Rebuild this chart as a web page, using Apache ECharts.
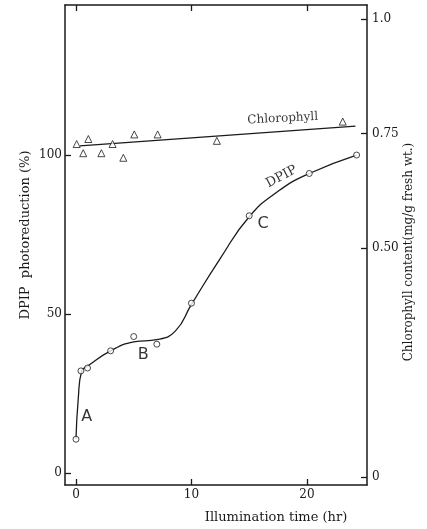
<!DOCTYPE html>
<html>
<head>
<meta charset="utf-8">
<script src="https://cdn.jsdelivr.net/npm/echarts@6/dist/echarts.min.js"></script>
<style>
  html, body { margin: 0; padding: 0; background: #fff; }
  #chart { width: 427px; height: 529px; }
</style>
</head>
<body>
<div id="chart"></div>
<script>
// DPIP photoreduction (%) measured points
const dpipX = [0, 0.43, 1.0, 3.0, 5.0, 7.0, 10.0, 15.0, 20.2, 24.3];
const dpipY = [10.6, 32.1, 33.0, 38.4, 42.9, 40.5, 53.4, 80.9, 94.2, 100];

// hand drawn DPIP curve
const curveX = [0, 0.2, 0.5, 1.0, 3.0, 5.0, 7.0, 8.6, 10.0, 12.5, 15.0, 17.5, 20.2, 24.3];
const curveY = [10.6, 23.5, 32.1, 33.6, 38.4, 41.2, 41.9, 44.6, 53.0, 67.5, 80.6, 88.6, 94.2, 100];

// chlorophyll content (mg/g fresh wt.)
const chlX = [0.06, 0.63, 1.07, 2.2, 3.17, 4.1, 5.05, 7.07, 12.2, 23.1];
const chlY = [0.727, 0.707, 0.738, 0.707, 0.727, 0.697, 0.748, 0.748, 0.734, 0.776];
const chlLineX = [0.35, 24.2];
const chlLineY = [0.723, 0.766];

// ticks
const xTicks = [0, 10, 20];
const leftTicks = [0, 50, 100];
const rightTicks = [0, 0.5, 0.75, 1.0];
const rightTickLabels = ['0', '0.50', '0.75', '1.0'];

// in-plot annotations (left axis units)
const noteText = ['A', 'B', 'C'];
const noteX = [0.94, 5.83, 16.2];
const noteY = [17.7, 37.1, 78.5];

const ink = '#1a1a1a';
const serif = 'DejaVu Serif';

const chart = echarts.init(document.getElementById('chart'));

const tickStyle = { show: true, inside: true, length: 6, lineStyle: { color: ink, width: 1.3 } };
const axisLine = { show: true, onZero: false, lineStyle: { color: ink, width: 1.5 } };
const labelStyle = { color: ink, fontFamily: serif, fontSize: 12 };

chart.setOption({
  animation: false,
  grid: { left: 65, right: 60, top: 5, bottom: 44 },
  xAxis: [
    {
      type: 'value', min: -0.95, max: 25.2, position: 'bottom',
      axisLine: axisLine,
      axisTick: Object.assign({ customValues: xTicks }, tickStyle),
      axisLabel: Object.assign({ customValues: xTicks, margin: 4 }, labelStyle),
      splitLine: { show: false }
    },
    {
      type: 'value', min: -0.95, max: 25.2, position: 'top',
      axisLine: axisLine,
      axisTick: Object.assign({ customValues: xTicks }, tickStyle),
      axisLabel: { show: false },
      splitLine: { show: false }
    }
  ],
  yAxis: [
    {
      type: 'value', min: -3.8, max: 147.2, position: 'left',
      axisLine: axisLine,
      axisTick: Object.assign({ customValues: leftTicks }, tickStyle),
      axisLabel: Object.assign({ customValues: leftTicks, margin: 3 }, labelStyle),
      splitLine: { show: false }
    },
    {
      type: 'value', min: -0.0175, max: 1.0306, position: 'right',
      axisLine: axisLine,
      axisTick: Object.assign({ customValues: rightTicks }, tickStyle),
      axisLabel: Object.assign({
        customValues: rightTicks, margin: 5,
        formatter: v => rightTickLabels[rightTicks.indexOf(v)]
      }, labelStyle),
      splitLine: { show: false }
    }
  ],
  series: [
    {
      name: 'DPIP curve', type: 'line', yAxisIndex: 0,
      data: curveX.map((x, i) => [x, curveY[i]]),
      smooth: 0.5, showSymbol: false, silent: true,
      lineStyle: { color: ink, width: 1.3 }, z: 2
    },
    {
      name: 'DPIP', type: 'scatter', yAxisIndex: 0,
      data: dpipX.map((x, i) => [x, dpipY[i]]),
      symbol: 'circle', symbolSize: 6,
      itemStyle: { color: '#fff', borderColor: ink, borderWidth: 1 }, z: 3
    },
    {
      name: 'Chlorophyll line', type: 'line', yAxisIndex: 1,
      data: chlLineX.map((x, i) => [x, chlLineY[i]]),
      showSymbol: false, silent: true,
      lineStyle: { color: ink, width: 1.3 }, z: 2
    },
    {
      name: 'Chlorophyll', type: 'scatter', yAxisIndex: 1,
      data: chlX.map((x, i) => [x, chlY[i]]),
      symbol: 'triangle', symbolSize: 7,
      itemStyle: { color: '#fff', borderColor: ink, borderWidth: 1 }, z: 3
    },
    {
      name: 'notes', type: 'scatter', yAxisIndex: 0, symbolSize: 0, silent: true,
      data: noteText.map((t, i) => ({ value: [noteX[i], noteY[i]], name: t })),
      label: {
        show: true, position: 'inside', formatter: '{b}',
        color: '#000', fontFamily: 'DejaVu Sans', fontSize: 16
      }
    },
    {
      name: 'curve names', type: 'scatter', yAxisIndex: 0, symbolSize: 0, silent: true,
      data: [
        { value: [17.8, 93.2], name: 'DPIP', label: { rotate: 28, fontSize: 13 } },
        { value: [17.9, 111.5], name: 'Chlorophyll', label: { rotate: 3, fontSize: 12 } }
      ],
      label: {
        show: true, position: 'inside', formatter: '{b}',
        color: '#000', fontFamily: serif
      }
    }
  ],
  graphic: [
    {
      type: 'text', x: 26, y: 235, rotation: Math.PI / 2,
      style: {
        text: 'DPIP  photoreduction (%)', fill: ink, font: '13px "DejaVu Serif"',
        textAlign: 'center', textVerticalAlign: 'middle'
      }
    },
    {
      type: 'text', x: 409, y: 252, rotation: Math.PI / 2,
      style: {
        text: 'Chlorophyll content(mg/g fresh wt.)', fill: ink, font: '12px "DejaVu Serif"',
        textAlign: 'center', textVerticalAlign: 'middle'
      }
    },
    {
      type: 'text', x: 276, y: 518,
      style: {
        text: 'Illumination time (hr)', fill: ink, font: '13px "DejaVu Serif"',
        textAlign: 'center', textVerticalAlign: 'middle'
      }
    }
  ]
});
</script>
</body>
</html>
